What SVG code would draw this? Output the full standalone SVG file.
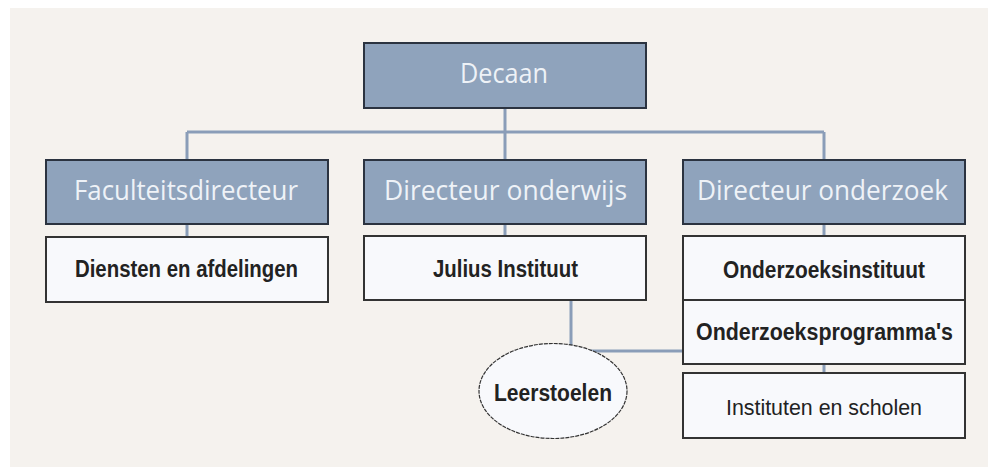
<svg xmlns="http://www.w3.org/2000/svg" width="988" height="467" viewBox="0 0 988 467">
<style>
.hdr{fill:#8fa3bc;stroke:#2b3340;stroke-width:2}
.box{fill:#f8f9fc;stroke:#333;stroke-width:2}
.ht{font-family:"Open Sans","DejaVu Sans",sans-serif;font-size:28px;fill:#eef2f7}
.bt{font-family:"Liberation Sans",Arial,sans-serif;font-size:23px;font-weight:bold;fill:#222}
.rt{font-family:"Liberation Sans",Arial,sans-serif;font-size:22px;fill:#222}
.con{stroke:#8a9db8;stroke-width:3;fill:none}
</style>
<rect x="10" y="8" width="978" height="459" fill="#f5f2ee"/>
<g id="connectors">
<path class="con" d="M505 108V132M187 132H824M187 132V160M505 132V160M824 132V160"/>
<path class="con" d="M187 224V237M505 224V236M824 224V236M824 364V373"/>
<path class="con" d="M571 300V352M571 351H683"/>
</g>
<g id="decaan"><rect class="hdr" x="364" y="43" width="282" height="65"/><text class="ht" x="460" y="83" textLength="88" lengthAdjust="spacingAndGlyphs">Decaan</text></g>
<g id="faculteitsdirecteur"><rect class="hdr" x="46" y="160" width="282" height="64"/><text class="ht" x="74" y="200" textLength="224" lengthAdjust="spacingAndGlyphs">Faculteitsdirecteur</text></g>
<g id="directeur-onderwijs"><rect class="hdr" x="364" y="160" width="282" height="64"/><text class="ht" x="384" y="200" textLength="243" lengthAdjust="spacingAndGlyphs">Directeur onderwijs</text></g>
<g id="directeur-onderzoek"><rect class="hdr" x="683" y="160" width="282" height="64"/><text class="ht" x="697" y="200" textLength="251" lengthAdjust="spacingAndGlyphs">Directeur onderzoek</text></g>
<g id="diensten"><rect class="box" x="46" y="237" width="282" height="65"/><text class="bt" x="75" y="277" textLength="223" lengthAdjust="spacingAndGlyphs">Diensten en afdelingen</text></g>
<g id="julius"><rect class="box" x="364" y="236" width="282" height="64"/><text class="bt" x="433" y="277" textLength="145" lengthAdjust="spacingAndGlyphs">Julius Instituut</text></g>
<g id="onderzoeksinstituut"><rect class="box" x="683" y="236" width="282" height="64"/><text class="bt" x="723" y="278" textLength="202" lengthAdjust="spacingAndGlyphs">Onderzoeksinstituut</text></g>
<g id="onderzoeksprogrammas"><rect class="box" x="683" y="300" width="282" height="64"/><text class="bt" x="696" y="340" textLength="257" lengthAdjust="spacingAndGlyphs">Onderzoeksprogramma's</text></g>
<g id="instituten"><rect class="box" x="683" y="373" width="282" height="65"/><text class="rt" x="726" y="415" textLength="196" lengthAdjust="spacingAndGlyphs">Instituten en scholen</text></g>
<g id="leerstoelen"><ellipse cx="553" cy="391" rx="74" ry="47.5" fill="#f8f9fc" stroke="#333" stroke-width="1.2" stroke-dasharray="4 1"/><text class="bt" x="494" y="401" textLength="118" lengthAdjust="spacingAndGlyphs">Leerstoelen</text></g>
</svg>
